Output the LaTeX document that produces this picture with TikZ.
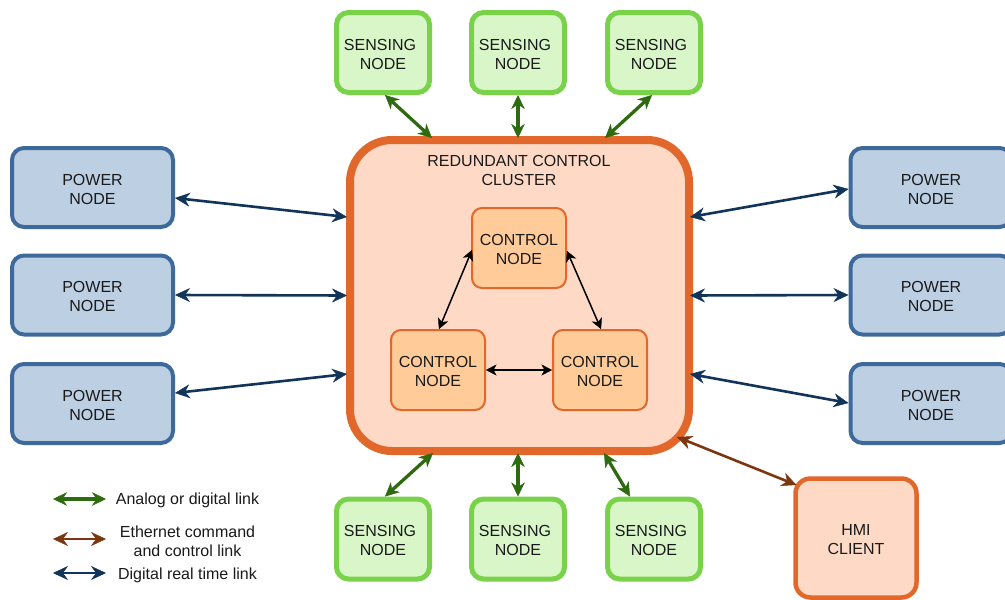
\documentclass[tikz,border=0pt]{standalone}
\usepackage{fontspec}
\setmainfont{Liberation Sans}
\usetikzlibrary{arrows.meta,calc}
\definecolor{sensfill}{HTML}{D9F6C9}
\definecolor{sensdraw}{HTML}{7AD14A}
\definecolor{linkgreen}{HTML}{2E6B10}
\definecolor{powfill}{HTML}{BCCFE3}
\definecolor{powdraw}{HTML}{3D6A9B}
\definecolor{linkblue}{HTML}{123459}
\definecolor{clfill}{HTML}{FEDAC6}
\definecolor{cldraw}{HTML}{E1672A}
\definecolor{ctrlfill}{HTML}{FFCB99}
\definecolor{linkbrown}{HTML}{7D3710}
\definecolor{textcol}{HTML}{1A1A1A}
\newcommand\txtup{\rule{0pt}{15pt}}
\begin{document}
\begin{tikzpicture}[x=1pt,y=-1pt,
  every node/.style={text=textcol, font=\fontsize{16}{19}\selectfont, align=center, inner sep=0pt},
  sensbox/.style={draw=sensdraw, fill=sensfill, line width=5pt, rounded corners=12pt, minimum width=93pt, minimum height=80pt},
  powbox/.style={draw=powdraw, fill=powfill, line width=4pt, rounded corners=12pt, minimum width=161pt, minimum height=79pt},
  clbox/.style={draw=cldraw, fill=clfill, line width=8pt, rounded corners=42pt, minimum width=339pt, minimum height=311pt},
  ctrlbox/.style={draw=cldraw, fill=ctrlfill, line width=2pt, rounded corners=10pt, minimum width=94pt, minimum height=80pt},
  hmibox/.style={draw=cldraw, fill=clfill, line width=4.5pt, rounded corners=15pt, minimum width=121pt, minimum height=119pt},
  garrow/.style={draw=linkgreen, line width=3.3pt, >={Stealth[length=14pt,width=13.5pt,inset=4.5pt,line width=0.5pt]}, <->},
  barrow/.style={draw=linkblue, line width=2.6pt, >={Stealth[length=15pt,width=14pt,inset=5pt,line width=0.5pt]}, <->},
  brarrow/.style={draw=linkbrown, line width=2.6pt, >={Stealth[length=15pt,width=14pt,inset=5pt,line width=0.5pt]}, <->},
  karrow/.style={draw=black, line width=1.5pt, >={Stealth[length=10.5pt,width=11pt,inset=3pt,line width=0.3pt]}, <->}
]
\useasboundingbox (0,0) rectangle (1005,600);
\fill[white] (0,0) rectangle (1005,600);
\begin{scope}
\clip (0,0) rectangle (1005,600);
% cluster
\node[clbox] (cl) at (519.5,295.5) {};
\node (cltitle) at (519,168.5) {\txtup REDUNDANT CONTROL\\CLUSTER};
\node[ctrlbox] (ct) at (519,248) {\txtup CONTROL\\NODE};
\node[ctrlbox] (cbl) at (438,370) {\txtup CONTROL\\NODE};
\node[ctrlbox] (cbr) at (600,370) {\txtup CONTROL\\NODE};
% sensing nodes
\node[sensbox] (st1) at (383,52.5) {\txtup SENSING\kern6pt\\NODE};
\node[sensbox] (st2) at (518,52.5) {\txtup SENSING\kern6pt\\NODE};
\node[sensbox] (st3) at (654,52.5) {\txtup SENSING\kern6pt\\NODE};
\node[sensbox] (sb1) at (383,539) {\txtup SENSING\kern6pt\\NODE};
\node[sensbox] (sb2) at (518,539) {\txtup SENSING\kern6pt\\NODE};
\node[sensbox] (sb3) at (654,539) {\txtup SENSING\kern6pt\\NODE};
% power nodes
\node[powbox] (pl1) at (92.5,187.5) {\txtup POWER\\NODE};
\node[powbox] (pl2) at (92.5,295) {\txtup POWER\\NODE};
\node[powbox] (pl3) at (92.5,403.5) {\txtup POWER\\NODE};
\node[powbox] (pr1) at (931,187.5) {\txtup POWER\\NODE};
\node[powbox] (pr2) at (931,295) {\txtup POWER\\NODE};
\node[powbox] (pr3) at (931,403.5) {\txtup POWER\\NODE};
% HMI
\node[hmibox] (hmi) at (856,538) {\txtup HMI\\CLIENT};
% internal links
\draw[karrow] ($(ct.west)+(1,2)$) -- ($(cbl.north)+(1,0)$);
\draw[karrow] ($(ct.east)+(0,3)$) -- ($(cbr.north)+(1,0)$);
\draw[karrow] (cbl.east) -- (cbr.west);
% sensing links
\draw[garrow] ($(st1.south)+(2,0)$) -- ($(cl.north)+(-87.5,2)$);
\draw[garrow] (st2.south) -- ($(st2.south |- cl.north)+(0,2)$);
\draw[garrow] ($(st3.south)+(-2,0)$) -- ($(cl.north)+(85.5,2)$);
\draw[garrow] ($(cl.south)+(-86.5,-2)$) -- ($(sb1.north)+(2,0)$);
\draw[garrow] ($(sb2.north |- cl.south)+(0,-2)$) -- (sb2.north);
\draw[garrow] ($(cl.south)+(84.5,-2)$) -- ($(sb3.north)+(-24,0)$);
% power links
\draw[barrow] ($(pl1.east)+(0,10.5)$) -- ($(cl.west)+(1,-78.5)$);
\draw[barrow] (pl2.east) -- ($(cl.west)+(1,0)$);
\draw[barrow] ($(pl3.east)+(0,-10.5)$) -- ($(cl.west)+(1,78.5)$);
\draw[barrow] ($(cl.east)+(-3,-78.5)$) -- ($(pr1.west)+(0,1.5)$);
\draw[barrow] ($(cl.east)+(-3,0)$) -- (pr2.west);
\draw[barrow] ($(cl.east)+(-3,78.5)$) -- ($(pr3.west)+(0,-0.5)$);
% HMI link
\draw[brarrow] ($(cl.south east)+(-16,-18)$) -- ($(hmi.north west)+(3.25,8.75)$);
% legend
\coordinate (g1a) at (53,499); \coordinate (g1b) at (106,499);
\coordinate (g2a) at (53,539); \coordinate (g2b) at (106,539);
\coordinate (g3a) at (53,573); \coordinate (g3b) at (106,573);
\draw[garrow] (g1a) -- (g1b);
\draw[brarrow] (g2a) -- (g2b);
\draw[barrow] (g3a) -- (g3b);
\node (lt1) at (187.5,499) {\txtup Analog or digital link};
\node (lt2) at (187.5,540) {\txtup Ethernet command\\and control link};
\node (lt3) at (187.5,574) {\txtup Digital real time link};
\end{scope}
\end{tikzpicture}
\end{document}
